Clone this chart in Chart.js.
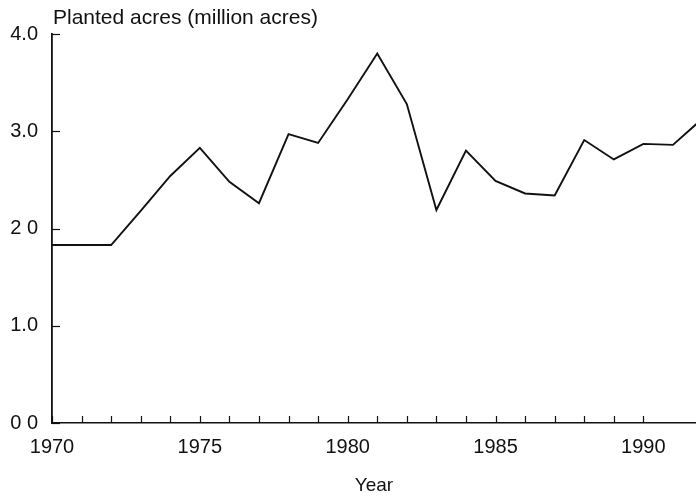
<!DOCTYPE html>
<html>
<head>
<meta charset="utf-8">
<title>Planted acres</title>
<script src="https://cdn.jsdelivr.net/npm/chart.js@4.4.1/dist/chart.umd.min.js"></script>
<style>
  html, body { margin: 0; padding: 0; background: #fff; }
  #wrap { width: 696px; height: 497px; position: relative; }
</style>
</head>
<body>
<div id="wrap"><canvas id="chart"></canvas></div>
<script>
// Planted acres, million acres
const years = [1970, 1971, 1972, 1973, 1974, 1975, 1976, 1977, 1978, 1979, 1980,
               1981, 1982, 1983, 1984, 1985, 1986, 1987, 1988, 1989, 1990, 1991, 1992];
const acres = [1.83, 1.83, 1.83, 2.18, 2.54, 2.83, 2.48, 2.26, 2.97, 2.88, 3.33,
               3.80, 3.28, 2.19, 2.80, 2.49, 2.36, 2.34, 2.91, 2.71, 2.87, 2.86, 3.13];
// tick labels as printed (the scan drops some decimal points)
const yTickLabels = ['0 0', '1.0', '2 0', '3.0', '4.0'];
const xLabelYears = [1970, 1975, 1980, 1985, 1990];

const FONT = '"Liberation Sans", Arial, Helvetica, sans-serif';
const INK = '#111';

// inward tick marks + y axis caption
const axisMarks = {
    id: 'axisMarks',
    afterDraw(chart) {
        const { ctx, chartArea, scales: { x, y } } = chart;
        ctx.save();
        ctx.strokeStyle = INK;
        ctx.lineWidth = 1.2;
        x.ticks.forEach(t => {
            if (!Number.isInteger(t.value)) return;
            const px = Math.round(x.getPixelForValue(t.value)) + 0.5;
            ctx.beginPath();
            ctx.moveTo(px, chartArea.bottom);
            ctx.lineTo(px, chartArea.bottom - 7);
            ctx.stroke();
        });
        y.ticks.forEach(t => {
            const py = Math.round(y.getPixelForValue(t.value)) + 0.5;
            ctx.beginPath();
            ctx.moveTo(chartArea.left, py);
            ctx.lineTo(chartArea.left + 8, py);
            ctx.stroke();
        });
        ctx.fillStyle = INK;
        ctx.font = '21px ' + FONT;
        ctx.textBaseline = 'alphabetic';
        ctx.textAlign = 'left';
        ctx.fillText('Planted acres (million acres)', chartArea.left + 1, 24);
        ctx.restore();
    }
};

new Chart(document.getElementById('chart'), {
    type: 'line',
    data: {
        datasets: [{
            data: years.map((yr, i) => ({ x: yr, y: acres[i] })),
            borderColor: INK,
            borderWidth: 1.9,
            tension: 0,
            pointRadius: 0,
            fill: false
        }]
    },
    options: {
        responsive: true,
        maintainAspectRatio: false,
        animation: false,
        layout: { padding: { top: 34, right: 0, bottom: 0, left: 0 } },
        plugins: {
            legend: { display: false },
            tooltip: { enabled: false }
        },
        scales: {
            x: {
                type: 'linear',
                min: 1970,
                max: 1991.78,
                grid: { display: false, drawTicks: false },
                border: { display: true, color: INK, width: 1.6 },
                ticks: {
                    stepSize: 1,
                    autoSkip: false,
                    maxRotation: 0,
                    padding: 12,
                    color: INK,
                    font: { family: FONT, size: 20 },
                    callback: v => xLabelYears.includes(v) ? String(v) : ''
                },
                title: {
                    display: true,
                    text: 'Year',
                    color: INK,
                    font: { family: FONT, size: 19 },
                    padding: { top: 0, bottom: 0 }
                },
                afterFit: s => {
                    s.height = 74;
                    s.paddingLeft = 0;
                    s.paddingRight = 0;
                }
            },
            y: {
                min: 0,
                max: 4,
                grid: { display: false, drawTicks: false },
                border: { display: true, color: INK, width: 1.8 },
                ticks: {
                    stepSize: 1,
                    padding: 14,
                    color: INK,
                    font: { family: FONT, size: 20 },
                    callback: (v, i) => yTickLabels[i]
                },
                afterFit: s => { s.width = 52; }
            }
        }
    },
    plugins: [axisMarks]
});
</script>
</body>
</html>
